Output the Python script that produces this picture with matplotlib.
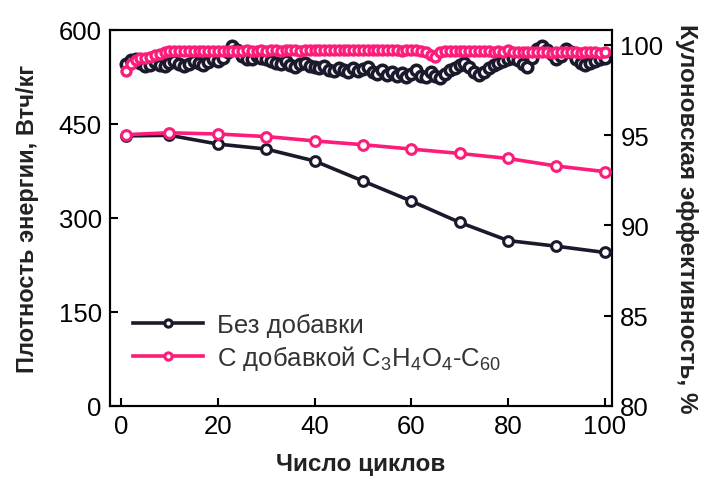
import numpy as np
import matplotlib.pyplot as plt

plt.rcParams['font.family'] = ['Liberation Sans', 'DejaVu Sans']
plt.rcParams['mathtext.fontset'] = 'custom'
plt.rcParams['mathtext.rm'] = 'Liberation Sans'

# energy density, Wh/kg (left axis)
cycles_e = [1, 10, 20, 30, 40, 50, 60, 70, 80, 90, 100]
energy_plain = [431, 432, 418, 410, 391, 359, 327, 293, 264, 255, 245]
energy_add = [433, 436, 434, 430, 423, 417, 410, 403, 395, 383, 374]

# coulombic efficiency, % (right axis), cycles 1..100
ce_plain = [98.95, 99.15, 99.2, 99.0, 98.85, 98.9, 99.05, 98.9, 98.85, 99.0,
            99.1, 98.95, 98.85, 98.95, 99.1, 99.0, 98.9, 99.05, 99.2, 99.1,
            99.3, 99.6, 99.95, 99.7, 99.4, 99.2, 99.25, 99.4, 99.3, 99.2,
            99.1, 99.0, 98.95, 99.1, 98.9, 98.8, 98.95, 99.0, 98.85, 98.8,
            98.7, 98.85, 98.6, 98.55, 98.75, 98.6, 98.5, 98.7, 98.55, 98.65,
            98.8, 98.5, 98.4, 98.6, 98.35, 98.5, 98.3, 98.45, 98.25, 98.4,
            98.6, 98.3, 98.2, 98.5, 98.3, 98.15, 98.4, 98.6, 98.75, 98.9,
            99.0, 98.8, 98.5, 98.35, 98.5, 98.7, 98.9, 99.0, 99.1, 99.2,
            99.3, 99.15, 98.95, 98.8, 99.3, 99.8, 99.95, 99.7, 99.5, 99.2,
            99.4, 99.8, 99.6, 99.2, 99.0, 98.9, 99.0, 99.1, 99.2, 99.3]
ce_add = [98.55, 98.95, 99.15, 99.3, 99.3, 99.35, 99.45, 99.5, 99.62, 99.65,
          99.66, 99.64, 99.66, 99.67, 99.65, 99.66, 99.68, 99.66, 99.67, 99.68,
          99.67, 99.69, 99.68, 99.67, 99.69, 99.7, 99.68, 99.69, 99.7, 99.69,
          99.7, 99.71, 99.69, 99.7, 99.71, 99.7, 99.69, 99.71, 99.7, 99.7,
          99.71, 99.7, 99.72, 99.7, 99.71, 99.7, 99.71, 99.72, 99.7, 99.71,
          99.7, 99.71, 99.7, 99.72, 99.7, 99.71, 99.7, 99.69, 99.7, 99.71,
          99.7, 99.69, 99.6, 99.45, 99.35, 99.6, 99.66, 99.67, 99.65, 99.66,
          99.65, 99.66, 99.64, 99.65, 99.66, 99.64, 99.63, 99.65, 99.62, 99.7,
          99.62, 99.6, 99.62, 99.6, 99.61, 99.6, 99.62, 99.6, 99.58, 99.6,
          99.61, 99.6, 99.62, 99.6, 99.58, 99.6, 99.62, 99.6, 99.58, 99.6]
cycles_ce = np.arange(1, 101)

dark = '#1b1a2c'
pink = '#fc1c7a'

fig = plt.figure(figsize=(7.04, 4.81), dpi=100)
ax = fig.add_axes([110/704, 74/481, 502/704, 376/481])
ax2 = ax.twinx()

ax2.plot(cycles_ce, ce_plain, 'o', color=dark, ms=7.5, mfc='white', mec=dark, mew=2.6, zorder=2)
ax2.plot(cycles_ce, ce_add, 'o', color=pink, ms=6.5, mfc='white', mec=pink, mew=2.4, zorder=3)

ax.plot(cycles_e, energy_plain, '-o', color=dark, lw=2.6, ms=7, mfc='white', mec=dark, mew=2.2,
        label='Без добавки', zorder=3)
ax.plot(cycles_e, energy_add, '-o', color=pink, lw=2.6, ms=7, mfc='white', mec=pink, mew=2.2,
        label='С добавкой C$_3$H$_4$O$_4$-C$_{60}$', zorder=4)
ax.set_zorder(ax2.get_zorder() + 1)
ax.patch.set_visible(False)

ax.set_xlim(-2.3, 101.5)
ax.set_ylim(0, 600)
ax2.set_ylim(80, 100.83)
ax.set_xticks([0, 20, 40, 60, 80, 100])
ax.set_yticks([0, 150, 300, 450, 600])
ax2.set_yticks([80, 85, 90, 95, 100])

ax.tick_params(axis='both', direction='in', length=6, width=1.5, labelsize=18.5, pad=6)
ax.tick_params(axis='y', right=False)
ax2.tick_params(axis='y', direction='in', length=6, width=1.5, labelsize=18.5, pad=6)
for a in (ax, ax2):
    for s in a.spines.values():
        s.set_linewidth(1.5)

ax.set_xlabel('Число циклов', fontsize=17.5, fontweight='bold', color='#222222', labelpad=10)
ax.set_ylabel('Плотность энергии, Втч/кг', fontsize=17, fontweight='bold', color='#222222', labelpad=14)
ax2.set_ylabel('Кулоновская эффективность, %', fontsize=17.5, fontweight='bold', color='#222222',
               rotation=270, labelpad=25)

leg = ax.legend(loc='lower left', bbox_to_anchor=(0.0, 0.03), frameon=False, fontsize=18.5,
                handlelength=2.7, handletextpad=0.55, labelspacing=0.2, markerscale=0.75)
for t in leg.get_texts():
    t.set_color('#333333')

fig.savefig('out.png', dpi=100)
